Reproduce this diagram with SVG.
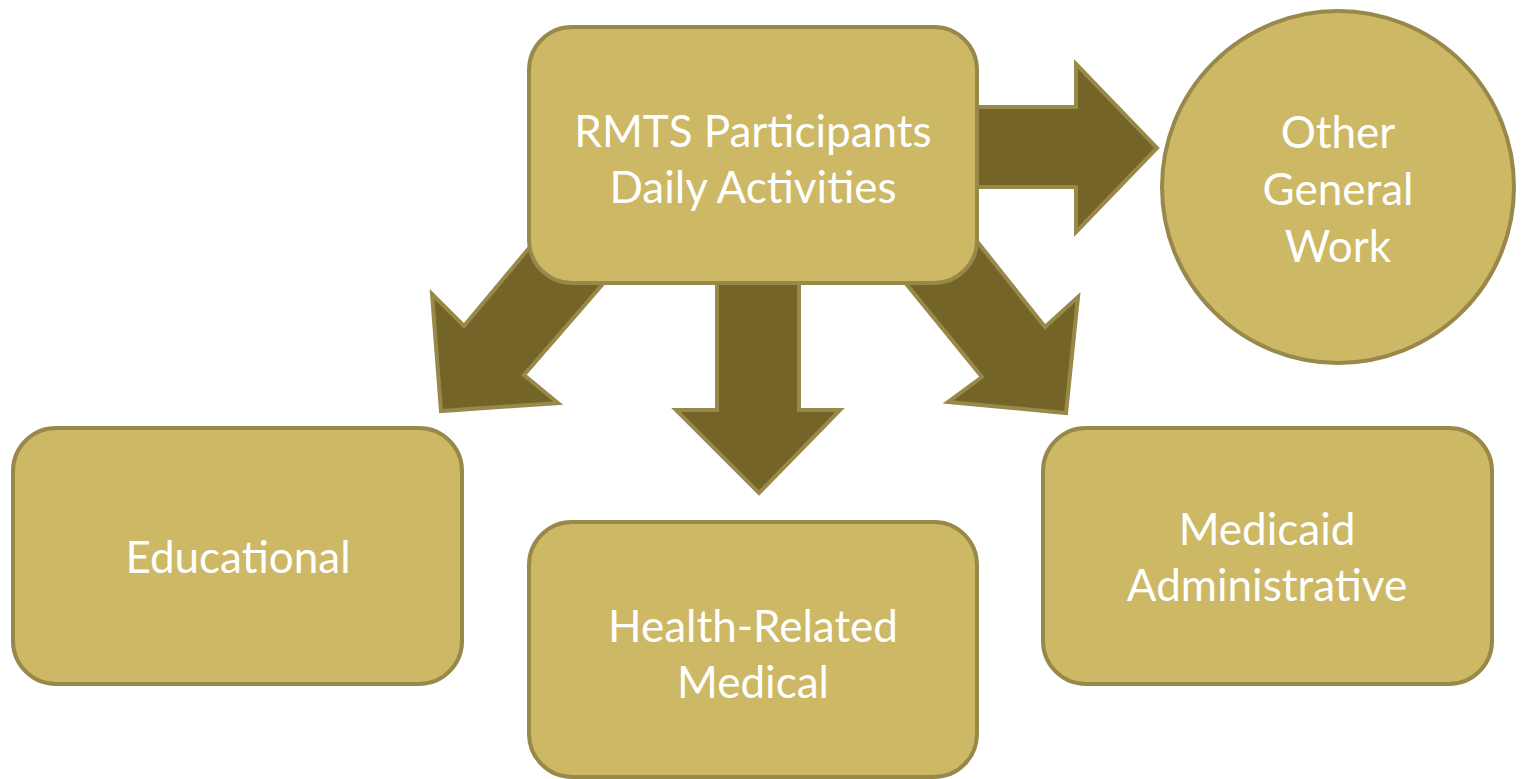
<svg xmlns="http://www.w3.org/2000/svg" width="1521" height="779" viewBox="0 0 1521 779">
<style>
.node{fill:#CDB866;stroke:#988849;stroke-width:4}
.arrow{fill:#756427;stroke:#988849;stroke-width:4;stroke-linejoin:miter}
.t{font-family:Lato,"Open Sans",sans-serif;font-size:44px;fill:#FFFFFF;text-anchor:middle}
</style>
<rect width="1521" height="779" fill="#FFFFFF"/>
<g id="connectors">
<polygon class="arrow" points="960,107 1076,107 1076,64 1157,148 1076,232 1076,187 960,187"/>
<polygon class="arrow" points="717,270 799,270 799,410 840,410 759,493 676,410 717,410"/>
<polygon class="arrow" points="540,235 464,326 432,294 441,411 558,403 524,375 615,270"/>
<polygon class="arrow" points="968,230 1045,327 1078,297 1066,413 948,402 982,377 895,270"/>
</g>
<g id="center">
<rect class="node" x="529" y="27" width="448" height="256" rx="43"/>
<text class="t" x="753" y="147">RMTS Participants</text>
<text class="t" x="753" y="203">Daily Activities</text>
</g>
<g id="other">
<circle class="node" cx="1338" cy="187" r="176"/>
<text class="t" x="1338" y="148">Other</text>
<text class="t" x="1338" y="205">General</text>
<text class="t" x="1338" y="262">Work</text>
</g>
<g id="educational">
<rect class="node" x="13" y="428" width="449" height="256" rx="43"/>
<text class="t" x="238" y="573">Educational</text>
</g>
<g id="health">
<rect class="node" x="529" y="522" width="448" height="255" rx="43"/>
<text class="t" x="753" y="642">Health-Related</text>
<text class="t" x="753" y="698">Medical</text>
</g>
<g id="medicaid">
<rect class="node" x="1043" y="428" width="449" height="256" rx="43"/>
<text class="t" x="1267" y="545">Medicaid</text>
<text class="t" x="1267" y="601">Administrative</text>
</g>
</svg>
